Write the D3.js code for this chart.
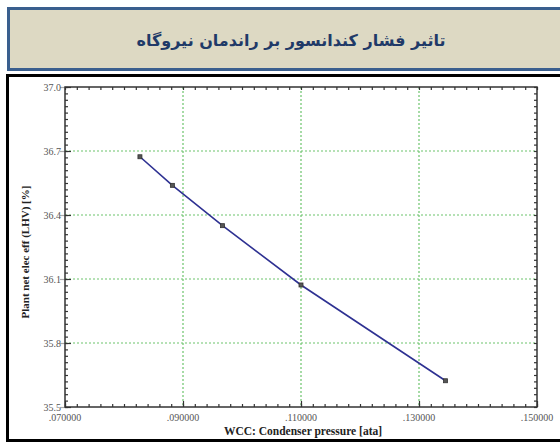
<!DOCTYPE html>
<html>
<head>
<meta charset="utf-8">
<script src="https://cdn.jsdelivr.net/npm/d3@7"></script>
<style>
  html, body { margin: 0; padding: 0; background: #fff; }
  svg { display: block; }
</style>
</head>
<body>
<svg id="chart" width="560" height="443"></svg>
<script>
// Condenser pressure [ata] vs. plant net electrical efficiency (LHV) [%]
const pressure   = [0.0827, 0.0882, 0.0967, 0.1100, 0.1345];
const efficiency = [36.673, 36.539, 36.350, 36.072, 35.623];

const xTicks = [0.07, 0.09, 0.11, 0.13, 0.15];
const yTicks = [35.5, 35.8, 36.1, 36.4, 36.7, 37.0];

const titleText = "تاثیر فشار کندانسور بر راندمان نیروگاه";
const xLabel = "WCC: Condenser pressure [ata]";
const yLabel = "Plant net elec eff (LHV) [%]";

const svg = d3.select("#chart");
const serif = "'Liberation Serif', 'Times New Roman', serif";

// Title banner
svg.append("rect")
  .attr("x", 8.5).attr("y", 8.5).attr("width", 560).attr("height", 61)
  .attr("fill", "#ddd9c3").attr("stroke", "#3a5f8e").attr("stroke-width", 3);
svg.append("text")
  .attr("x", 291).attr("y", 46)
  .attr("text-anchor", "middle")
  .attr("direction", "rtl")
  .attr("font-family", "'DejaVu Sans', sans-serif")
  .attr("font-weight", "bold")
  .attr("font-size", 16)
  .attr("fill", "#1f3a68")
  .text(titleText);

// Chart frame
svg.append("path")
  .attr("d", "M 562 75.5 L 7.5 75.5 L 7.5 440.5 L 562 440.5")
  .attr("fill", "none").attr("stroke", "#000").attr("stroke-width", 3);

const plot = { left: 65, right: 537, top: 87, bottom: 407 };

const x = d3.scaleLinear().domain([0.07, 0.15]).range([plot.left, plot.right]);
const y = d3.scaleLinear().domain([35.5, 37.0]).range([plot.bottom, plot.top]);

// Grid lines (interior majors only)
const grid = svg.append("g")
  .attr("stroke", "#6cc36c").attr("stroke-width", 1.2)
  .attr("stroke-dasharray", "2,2");
grid.selectAll("line.gx")
  .data(xTicks.slice(1, -1)).join("line")
  .attr("x1", d => x(d)).attr("x2", d => x(d))
  .attr("y1", plot.top).attr("y2", plot.bottom);
grid.selectAll("line.gy")
  .data(yTicks.slice(1, -1)).join("line")
  .attr("x1", plot.left).attr("x2", plot.right)
  .attr("y1", d => y(d)).attr("y2", d => y(d));

// Minor tick positions
const xMinor = d3.range(0, 41).map(i => 0.07 + i * 0.002);
const yMinor = d3.range(0, 51).map(i => 35.5 + i * 0.03);

function styleAxis(g) {
  g.select(".domain").remove();
  g.selectAll(".tick line").attr("stroke", "#333").attr("stroke-width", 1.2);
  g.selectAll(".tick text").remove();
}

// Minor ticks, pointing inward on all four sides
svg.append("g").attr("transform", `translate(0,${plot.bottom})`)
  .call(d3.axisTop(x).tickValues(xMinor).tickSize(3)).call(styleAxis);
svg.append("g").attr("transform", `translate(0,${plot.top})`)
  .call(d3.axisBottom(x).tickValues(xMinor).tickSize(3)).call(styleAxis);
svg.append("g").attr("transform", `translate(${plot.left},0)`)
  .call(d3.axisRight(y).tickValues(yMinor).tickSize(3)).call(styleAxis);
svg.append("g").attr("transform", `translate(${plot.right},0)`)
  .call(d3.axisLeft(y).tickValues(yMinor).tickSize(3)).call(styleAxis);

// Major ticks
svg.append("g").attr("transform", `translate(0,${plot.bottom})`)
  .call(d3.axisTop(x).tickValues(xTicks).tickSize(6)).call(styleAxis);
svg.append("g").attr("transform", `translate(${plot.left},0)`)
  .call(d3.axisRight(y).tickValues(yTicks).tickSize(6)).call(styleAxis);
svg.append("g").attr("transform", `translate(${plot.left},0)`)
  .call(d3.axisLeft(y).tickValues(yTicks).tickSize(5)).call(g => {
    g.select(".domain").remove();
    g.selectAll(".tick line").attr("stroke", "#aaa").attr("stroke-width", 1.2);
    g.selectAll(".tick text").remove();
  });

// Plot border
svg.append("rect")
  .attr("x", plot.left).attr("y", plot.top)
  .attr("width", plot.right - plot.left).attr("height", plot.bottom - plot.top)
  .attr("fill", "none").attr("stroke", "#333").attr("stroke-width", 1.5);

// Tick labels
svg.append("g").selectAll("text")
  .data(xTicks).join("text")
  .attr("x", d => x(d)).attr("y", 421)
  .attr("text-anchor", "middle")
  .attr("font-family", serif).attr("font-size", 10).attr("fill", "#555")
  .text(d => d3.format(".6f")(d).replace(/^0/, ""));
svg.append("g").selectAll("text")
  .data(yTicks).join("text")
  .attr("x", 61).attr("y", d => y(d) + 3.5)
  .attr("text-anchor", "end")
  .attr("font-family", serif).attr("font-size", 10).attr("fill", "#555")
  .text(d => d3.format(".1f")(d));

// Axis titles
svg.append("text")
  .attr("x", 303).attr("y", 435)
  .attr("text-anchor", "middle")
  .attr("font-family", serif).attr("font-weight", "bold").attr("font-size", 11.5)
  .attr("fill", "#222")
  .text(xLabel);
svg.append("text")
  .attr("transform", `translate(29,252) rotate(-90)`)
  .attr("text-anchor", "middle")
  .attr("font-family", serif).attr("font-weight", "bold").attr("font-size", 11)
  .attr("fill", "#222")
  .text(yLabel);

// Series line and markers
const pts = pressure.map((p, i) => [p, efficiency[i]]);
svg.append("path")
  .datum(pts)
  .attr("fill", "none").attr("stroke", "#2e3192").attr("stroke-width", 1.6)
  .attr("d", d3.line().x(d => x(d[0])).y(d => y(d[1])));
svg.append("g").selectAll("rect")
  .data(pts).join("rect")
  .attr("x", d => x(d[0]) - 2).attr("y", d => y(d[1]) - 2)
  .attr("width", 4).attr("height", 4)
  .attr("fill", "#555").attr("stroke", "#333").attr("stroke-width", 0.8);
</script>
</body>
</html>
